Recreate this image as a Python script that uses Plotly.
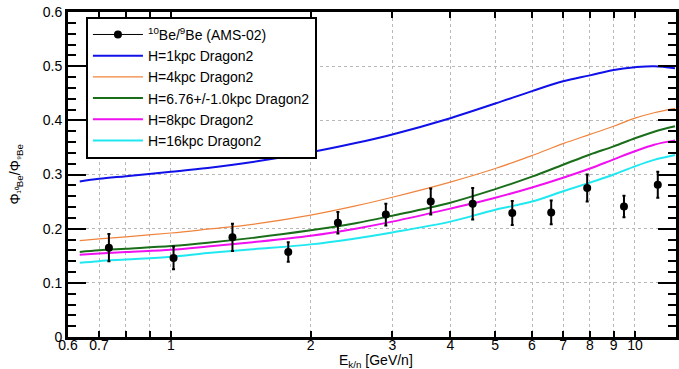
import plotly.graph_objects as go
import math

# ---- data ----
E_data = [0.735, 1.013, 1.357, 1.79, 2.29, 2.905, 3.63, 4.47, 5.44, 6.6, 7.89, 9.47, 11.2]
R_data = [0.165, 0.146, 0.184, 0.157, 0.211, 0.226, 0.250, 0.246, 0.229, 0.230, 0.275, 0.241, 0.281]
R_err = [0.025, 0.021, 0.025, 0.018, 0.020, 0.020, 0.024, 0.029, 0.022, 0.022, 0.025, 0.020, 0.024]

E_model = [0.636, 0.7, 0.8, 1.0, 1.2, 1.5, 2.0, 2.5, 3.0, 4.0, 5.0, 6.0, 7.0, 8.0, 9.0, 10.0, 11.0, 12.2]
H1 = [0.287, 0.292, 0.297, 0.305, 0.312, 0.323, 0.341, 0.358, 0.374, 0.404, 0.431, 0.454, 0.472, 0.483, 0.493, 0.498, 0.500, 0.496]
H4 = [0.178, 0.181, 0.185, 0.192, 0.199, 0.208, 0.225, 0.242, 0.258, 0.286, 0.311, 0.335, 0.357, 0.374, 0.389, 0.404, 0.414, 0.422]
H676 = [0.157, 0.160, 0.163, 0.168, 0.174, 0.183, 0.197, 0.210, 0.224, 0.248, 0.273, 0.296, 0.318, 0.337, 0.352, 0.367, 0.379, 0.389]
H8 = [0.152, 0.154, 0.157, 0.161, 0.167, 0.175, 0.187, 0.200, 0.213, 0.237, 0.257, 0.276, 0.294, 0.311, 0.328, 0.343, 0.355, 0.363]
H16 = [0.137, 0.140, 0.143, 0.148, 0.155, 0.162, 0.171, 0.182, 0.193, 0.213, 0.235, 0.250, 0.269, 0.285, 0.300, 0.315, 0.327, 0.336]

models = [
    ("H=1kpc Dragon2", H1, "#1010e8", 2),
    ("H=4kpc Dragon2", H4, "#f0843c", 1.2),
    ("H=6.76+/-1.0kpc Dragon2", H676, "#1a6e1a", 2),
    ("H=8kpc Dragon2", H8, "#f010f0", 2),
    ("H=16kpc Dragon2", H16, "#20e8f0", 2),
]

x_labels = [0.6, 0.7, 1, 2, 3, 4, 5, 6, 7, 8, 9, 10]
x_minor = [0.8, 0.9]
x_long = [1, 10]

FONT = "Liberation Sans, Arial, Helvetica, sans-serif"
x_range = [math.log10(0.6), math.log10(12.26)]

fig = go.Figure()

# legend proxy for data
fig.add_trace(go.Scatter(
    x=[None], y=[None], mode="lines+markers",
    name="<sup>10</sup>Be/<sup>9</sup>Be (AMS-02)",
    line=dict(color="black", width=1), marker=dict(color="black", size=8)))

for name, vals, col, w in models:
    fig.add_trace(go.Scatter(x=E_model, y=vals, mode="lines", name=name,
                             line=dict(color=col, width=w, shape="spline")))

fig.add_trace(go.Scatter(
    x=E_data, y=R_data, mode="markers", showlegend=False,
    marker=dict(color="black", size=8),
    error_y=dict(type="data", array=R_err, color="black", thickness=2, width=1.5)))

grid = dict(gridcolor="#b8b8b8", griddash="dot", gridwidth=1)

fig.update_layout(
    width=679, height=369,
    margin=dict(l=68, r=0, t=12, b=32),
    paper_bgcolor="white", plot_bgcolor="white",
    font=dict(family=FONT, size=14, color="black"),
    showlegend=True,
    legend=dict(x=0.0295, y=0.985, xanchor="left", yanchor="top",
                bordercolor="black", borderwidth=2, bgcolor="white",
                font=dict(size=14), itemwidth=50, traceorder="normal"),
    xaxis=dict(type="log", range=x_range, tickvals=x_labels,
               ticktext=[str(v) for v in x_labels],
               ticks="inside", ticklen=6, tickwidth=2, tickcolor="black",
               ticklabelstandoff=-7,
               showline=True, linewidth=3, linecolor="black", mirror="ticks",
               showgrid=True, **grid, zeroline=False,
               minor=dict(tickvals=x_minor, ticks="inside", ticklen=6,
                          tickwidth=2, tickcolor="black", showgrid=True,
                          gridcolor="#b8b8b8", griddash="dot", gridwidth=1)),
    xaxis2=dict(type="log", range=x_range, overlaying="x", side="bottom",
                anchor="y", tickvals=x_long, showticklabels=False,
                ticks="inside", ticklen=11, tickwidth=2, tickcolor="black",
                showgrid=False, showline=False, mirror="ticks", zeroline=False),
    yaxis=dict(range=[0, 0.6], tick0=0, dtick=0.1,
               ticks="inside", ticklen=18, tickwidth=2, tickcolor="black",
               showline=True, linewidth=3, linecolor="black", mirror="ticks",
               showgrid=True, **grid, zeroline=False,
               minor=dict(dtick=0.02, ticks="inside", ticklen=8, tickwidth=2,
                          tickcolor="black", showgrid=False)),
    annotations=[
        dict(text="E<sub>k/n</sub> [GeV/n]", xref="paper", yref="paper",
             x=0.507, y=-0.074, xanchor="center", yanchor="middle",
             showarrow=False, font=dict(size=14)),
        dict(text="Φ<sub>¹⁰Be</sub>/Φ<sub>⁹Be</sub>", xref="paper", yref="paper",
             x=-0.087, y=0.5, xanchor="center", yanchor="middle",
             textangle=-90, showarrow=False, font=dict(size=14)),
    ],
)

fig.write_html("out.html")
